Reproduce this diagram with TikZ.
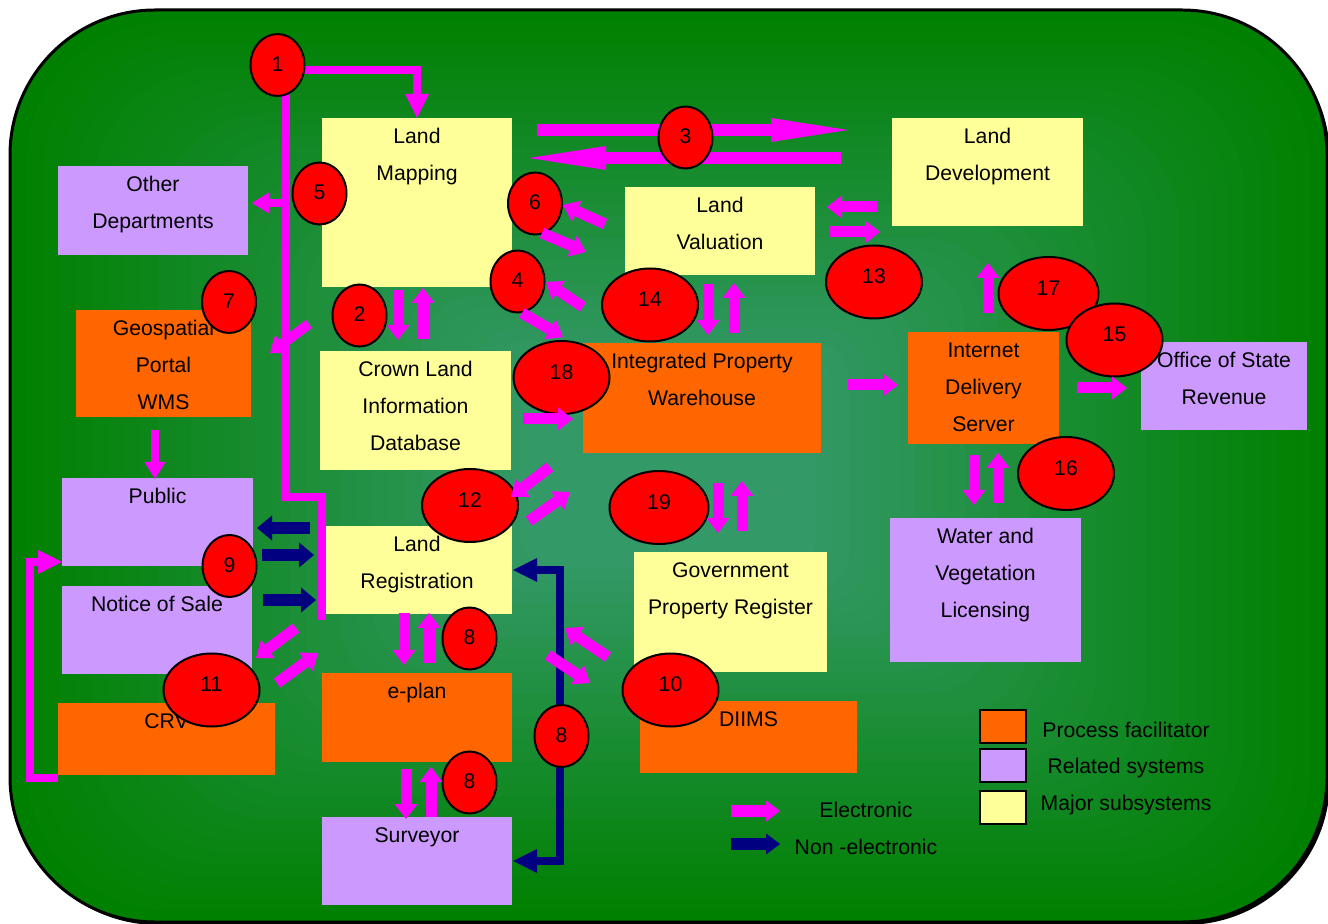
\documentclass[tikz,border=0pt]{standalone}
\usepackage{fontspec}
\setmainfont{Liberation Sans}
\usetikzlibrary{shapes.geometric,arrows.meta}
\newdimen\pxu \pxu=0.5pt
\definecolor{mag}{HTML}{FF00FF}
\definecolor{nav}{HTML}{000080}
\definecolor{ylw}{HTML}{FFFF99}
\definecolor{lil}{HTML}{CC99FF}
\definecolor{org}{HTML}{FF6600}
\definecolor{bgin}{HTML}{339966}
\definecolor{bgout}{HTML}{008000}
% box label: fixed-size page, lines centred, first baseline 12.75pt below the top
\newcommand\btext[3]{\begin{minipage}[t][#2\pxu][t]{#1\pxu}\fontsize{10.6pt}{18.5pt}\selectfont\centering\rule{0pt}{12.75pt}#3\end{minipage}}

\begin{document}
\begin{tikzpicture}[x=0.5pt,y=-0.5pt,
  font=\fontsize{10.6pt}{18.5pt}\selectfont,
  box/.style={inner sep=0pt,outer sep=0pt,anchor=north west},
  numel/.style={ellipse,draw=black,line width=1pt,fill=red,inner sep=0pt,text depth=0pt},
  numL/.style={numel,minimum width=48pt,minimum height=36.5pt,text height=1.6pt},
  numS/.style={numel,minimum width=27pt,minimum height=31pt,text height=6.1pt},
  ea/.style={draw=mag,line width=5.5pt,arrows={-Triangle[length=7.5pt,width=11.5pt,line width=0pt]}},
  ealong/.style={draw=mag,line width=6pt,arrows={-Triangle[length=38.5pt,width=12pt,line width=0pt]}},
  eathin/.style={draw=mag,line width=4pt,arrows={-Triangle[length=8.5pt,width=10.5pt,line width=0pt]}},
  eline/.style={draw=mag,line width=4pt},
  ealine/.style={eline,arrows={-Triangle[length=12pt,width=12pt,line width=0pt]}},
  na/.style={draw=nav,line width=6pt,arrows={-Triangle[length=7.5pt,width=12.5pt,line width=0pt]}},
  naline/.style={draw=nav,line width=4pt,arrows={Triangle[length=12pt,width=12pt,line width=0pt]-Triangle[length=12pt,width=12pt,line width=0pt]}},
  legar/.style={line width=6pt,arrows={-Triangle[length=7pt,width=10.5pt,line width=0pt]}},
  legsq/.style={draw=black,line width=1pt,minimum width=23pt,minimum height=16.5pt,inner sep=0pt},
  legtxt/.style={anchor=base,inner sep=0pt},
]
\useasboundingbox (0,0) rectangle (1328,924);
\fill[white] (0,0) rectangle (1328,924);

% panel: shadow, shaded fill, outline
\fill[black,rounded corners=72.5pt] (13,13) rectangle (1330,925);
\foreach \i in {0,...,39}{%
  \pgfmathsetmacro\gs{\i/40}%
  \pgfmathtruncatemacro\pc{min(100,130*\gs)}%
  \pgfmathsetmacro\rr{72.5*(1-\gs)}%
  \fill[bgin!\pc!bgout,rounded corners=\rr pt] ({10+658.5*\gs},{10+456*\gs}) rectangle ({1327-658.5*\gs},{922-456*\gs});
}
\draw[black,line width=1.5pt,rounded corners=72.5pt] (10,10) rectangle (1327,922);

% systems
\node[box,fill=ylw] (mapping)   at (322,118)  {\btext{190}{169}{Land\\Mapping}};
\node[box,fill=ylw] (develop)   at (892,118)  {\btext{191}{108}{Land\\Development}};
\node[box,fill=lil] (otherdep)  at (58,166)   {\btext{190}{89}{Other\\Departments}};
\node[box,fill=ylw] (valuation) at (625,187)  {\btext{190}{88}{Land\\Valuation}};
\node[box,fill=org] (geo)       at (76,310)   {\btext{175}{107}{Geospatial\\Portal\\WMS}};
\node[box,fill=ylw] (crown)     at (320,351)  {\btext{191}{119}{Crown Land\\Information\\Database}};
\node[box,fill=org] (ipw)       at (583,343)  {\btext{238}{110}{Integrated Property\\Warehouse}};
\node[box,fill=org] (ids)       at (908,332)  {\btext{151}{112}{Internet\\Delivery\\Server}};
\node[box,fill=lil] (osr)       at (1141,342) {\btext{166}{88}{Office of State\\Revenue}};
\node[box,fill=lil] (public)    at (62,478)   {\btext{191}{88}{Public}};
\node[box,fill=lil] (notice)    at (62,586)   {\btext{190}{88}{Notice of Sale}};
\node[box,fill=org] (crv)       at (58,703)   {\btext{217}{72}{CRV}};
\node[box,fill=ylw] (landreg)   at (322,526)  {\btext{190}{88}{Land\\Registration}};
\node[box,fill=org] (eplan)     at (322,673)  {\btext{190}{89}{e-plan}};
\node[box,fill=lil] (surveyor)  at (322,817)  {\btext{190}{88}{Surveyor}};
\node[box,fill=ylw] (gpr)       at (634,552)  {\btext{193}{120}{Government\\Property Register}};
\node[box,fill=org] (diims)     at (640,701)  {\btext{217}{72}{DIIMS}};
\node[box,fill=lil] (water)     at (890,518)  {\btext{191}{144}{Water and\\Vegetation\\Licensing}};

% end points of the flows
\path (279,70) coordinate (f1s)
      (286,80) coordinate (trunkA) (322,497) coordinate (trunkB) (322,620) coordinate (trunkC)
      (537,130) coordinate (f3at) (848,130) coordinate (f3ah)
      (841,158) coordinate (f3bt) (529,158) coordinate (f3bh)
      (58,778) coordinate (loopA) (30,562) coordinate (loopB) (62,562) coordinate (loopC)
      (513,570) coordinate (surA) (560,861) coordinate (surB) (513,861) coordinate (surC);

% long flows (under the numbers)
\draw[ealine] (f1s) -| (mapping.north);
\draw[eline] (trunkA) |- (trunkB) -- (trunkC);
\draw[ealong] (f3at) -- (f3ah);
\draw[ealong] (f3bt) -- (f3bh);
\draw[ealine] (loopA) -| (loopB) -- (loopC);
\draw[naline] (surA) -| (surB) -- (surC);

% step numbers
\node[numS] (n1)  at (277.5,65)   {1};
\node[numS] (n5)  at (319.5,193.5) {5};
\node[numS] (n6)  at (535,203.5)  {6};
\node[numS] (n3)  at (685.5,137.5) {3};
\node[numS] (n4)  at (517.5,281.5) {4};
\node[numS] (n2)  at (359.5,315.5) {2};
\node[numS] (n7)  at (229,302)    {7};
\node[numL] (n14) at (650,305)    {14};
\node[numL] (n13) at (874,282)    {13};
\node[numL,minimum width=50pt] (n17) at (1048.5,293.5) {17};
\node[numL] (n15) at (1114.5,340) {15};
\node[numL] (n18) at (561.5,377.5) {18};
\node[numL] (n16) at (1066,473.5) {16};
\node[numL] (n12) at (470,505.5)  {12};
\node[numL,minimum width=49.5pt] (n19) at (659,507.5) {19};
\node[numS] (n9)  at (229.5,566)  {9};
\node[numL] (n11) at (211.5,690)  {11};
\node[numS] (n8a) at (469.5,638.5) {8};
\node[numS] (n8c) at (561.5,736)  {8};
\node[numS] (n8b) at (469.5,782.5) {8};
\node[numL] (n10) at (670.5,690)  {10};

% short flows
\path (286,203) coordinate (f5t) (252,203) coordinate (f5h)
      (309,324) coordinate (f7t) (270,353) coordinate (f7h)
      (155,430) coordinate (fgt) (155,479) coordinate (fgh)
      (605,224) coordinate (f6at) (563,205) coordinate (f6ah)
      (542,233) coordinate (f6bt) (586,252) coordinate (f6bh)
      (583,307) coordinate (f4at) (546,282) coordinate (f4ah)
      (522,313) coordinate (f4bt) (563,337) coordinate (f4bh)
      (877,207) coordinate (f13at) (827,207) coordinate (f13ah)
      (830,232) coordinate (f13bt) (880,232) coordinate (f13bh)
      (708,284) coordinate (f14at) (708,335) coordinate (f14ah)
      (734,333) coordinate (f14bt) (734,283) coordinate (f14bh)
      (398,290) coordinate (f2at) (398,340) coordinate (f2ah)
      (423,339) coordinate (f2bt) (423,288) coordinate (f2bh)
      (523,419) coordinate (f18t) (573,419) coordinate (f18h)
      (550,467) coordinate (f12at) (511,497) coordinate (f12ah)
      (529,521) coordinate (f12bt) (570,492) coordinate (f12bh)
      (718,483) coordinate (f19at) (718,533) coordinate (f19ah)
      (742,531) coordinate (f19bt) (742,481) coordinate (f19bh)
      (848,385) coordinate (fidt) (898,385) coordinate (fidh)
      (1077,388) coordinate (f15t) (1127,388) coordinate (f15h)
      (988,313) coordinate (f17t) (988,263) coordinate (f17h)
      (974,455) coordinate (f16at) (974,505) coordinate (f16ah)
      (998,503) coordinate (f16bt) (998,453) coordinate (f16bh)
      (310,528) coordinate (f9at) (257,528) coordinate (f9ah)
      (262,555) coordinate (f9bt) (314,555) coordinate (f9bh)
      (263,600) coordinate (f9ct) (316,600) coordinate (f9ch)
      (296,628) coordinate (f11at) (256,658) coordinate (f11ah)
      (277,683) coordinate (f11bt) (318,653) coordinate (f11bh)
      (404,613) coordinate (f8at) (404,665) coordinate (f8ah)
      (429,663) coordinate (f8bt) (429,613) coordinate (f8bh)
      (406,769) coordinate (f8ct) (406,819) coordinate (f8ch)
      (431,817) coordinate (f8dt) (431,767) coordinate (f8dh)
      (608,657) coordinate (f10at) (565,628) coordinate (f10ah)
      (548,655) coordinate (f10bt) (590,683) coordinate (f10bh);

\draw[eathin] (f5t) -- (f5h);
\draw[ea,line width=5pt] (f7t) -- (f7h);
\draw[eathin] (fgt) -- (fgh);
\draw[ea] (f6at) -- (f6ah);
\draw[ea] (f6bt) -- (f6bh);
\draw[ea] (f4at) -- (f4ah);
\draw[ea] (f4bt) -- (f4bh);
\draw[ea] (f13at) -- (f13ah);
\draw[ea] (f13bt) -- (f13bh);
\draw[ea] (f14at) -- (f14ah);
\draw[ea] (f14bt) -- (f14bh);
\draw[ea] (f2at) -- (f2ah);
\draw[ea] (f2bt) -- (f2bh);
\draw[ea] (f18t) -- (f18h);
\draw[ea] (f12at) -- (f12ah);
\draw[ea] (f12bt) -- (f12bh);
\draw[ea] (f19at) -- (f19ah);
\draw[ea] (f19bt) -- (f19bh);
\draw[ea] (fidt) -- (fidh);
\draw[ea] (f15t) -- (f15h);
\draw[ea] (f17t) -- (f17h);
\draw[ea] (f16at) -- (f16ah);
\draw[ea] (f16bt) -- (f16bh);
\draw[na] (f9at) -- (f9ah);
\draw[na] (f9bt) -- (f9bh);
\draw[na] (f9ct) -- (f9ch);
\draw[ea] (f11at) -- (f11ah);
\draw[ea] (f11bt) -- (f11bh);
\draw[ea] (f8at) -- (f8ah);
\draw[ea] (f8bt) -- (f8bh);
\draw[ea] (f8ct) -- (f8ch);
\draw[ea] (f8dt) -- (f8dh);
\draw[ea] (f10at) -- (f10ah);
\draw[ea] (f10bt) -- (f10bh);

% legend
\node[legsq,fill=org] (lgorg) at (1003,726)   {};
\node[legsq,fill=lil] (lglil) at (1003,765.5) {};
\node[legsq,fill=ylw] (lgylw) at (1003,807.5) {};
\node[legtxt] (lgt1) at (1126,737.5) {Process facilitator};
\node[legtxt] (lgt2) at (1126,773.5) {Related systems};
\node[legtxt] (lgt3) at (1126,810.5) {Major subsystems};
\path (731,811) coordinate (lgat) (780,811) coordinate (lgah)
      (731,844) coordinate (lgbt) (780,844) coordinate (lgbh);
\draw[legar,draw=mag] (lgat) -- (lgah);
\draw[legar,draw=nav] (lgbt) -- (lgbh);
\node[legtxt] (lgt4) at (866,817.5) {Electronic};
\node[legtxt] (lgt5) at (866,854.5) {Non -electronic};
\end{tikzpicture}
\end{document}
